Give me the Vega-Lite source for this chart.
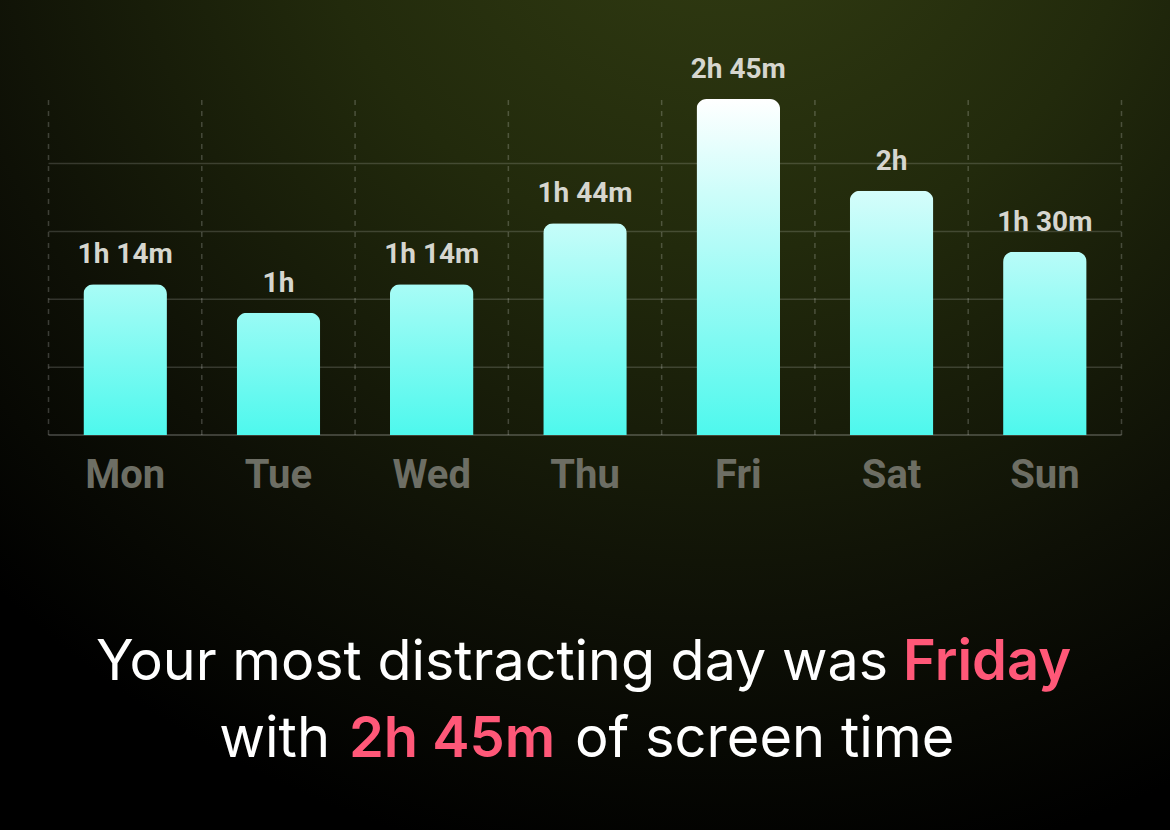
{
  "$schema": "https://vega.github.io/schema/vega-lite/v6.json",
  "width": 1170,
  "height": 830,
  "padding": 0,
  "autosize": "none",
  "background": "#000000",
  "config": {
    "view": {
      "stroke": null,
      "fill": {
        "gradient": "radial",
        "x1": 0.62, "y1": 0, "r1": 0,
        "x2": 0.62, "y2": 0, "r2": 0.9,
        "stops": [
          {"offset": 0, "color": "#343f13"},
          {"offset": 0.4, "color": "#222a0c"},
          {"offset": 0.75, "color": "#0e1006"},
          {"offset": 1, "color": "#000000"}
        ]
      }
    }
  },
  "datasets": {
    "days": [
      {"day": "Mon", "minutes": 74, "label": "1h 14m"},
      {"day": "Tue", "minutes": 60, "label": "1h"},
      {"day": "Wed", "minutes": 74, "label": "1h 14m"},
      {"day": "Thu", "minutes": 104, "label": "1h 44m"},
      {"day": "Fri", "minutes": 165, "label": "2h 45m"},
      {"day": "Sat", "minutes": 120, "label": "2h"},
      {"day": "Sun", "minutes": 90, "label": "1h 30m"}
    ],
    "grid": [
      {"v": 33.33}, {"v": 66.67}, {"v": 100}, {"v": 133.33}
    ]
  },
  "layer": [
    {
      "data": {"name": "days"},
      "mark": {"type": "rule", "color": "#ffffff", "opacity": 0.2, "strokeWidth": 1.5, "strokeDash": [5, 6]},
      "encoding": {
        "x": {"field": "day", "type": "nominal", "bandPosition": 0, "axis": null,
              "scale": {"domain": ["Mon", "Tue", "Wed", "Thu", "Fri", "Sat", "Sun"], "paddingInner": 0, "paddingOuter": 0.3165}},
        "y": {"datum": 0, "type": "quantitative", "axis": null,
              "scale": {"domain": [-194, 213.65], "nice": false, "zero": false}},
        "y2": {"datum": 166.67}
      }
    },
    {
      "data": {"name": "days"},
      "transform": [{"filter": "datum.day === 'Sun'"}],
      "mark": {"type": "rule", "color": "#ffffff", "opacity": 0.2, "strokeWidth": 1.5, "strokeDash": [5, 6]},
      "encoding": {
        "x": {"field": "day", "type": "nominal", "bandPosition": 1, "axis": null},
        "y": {"datum": 0, "type": "quantitative", "axis": null},
        "y2": {"datum": 166.67}
      }
    },
    {
      "data": {"name": "grid"},
      "mark": {"type": "tick", "color": "#ffffff", "opacity": 0.16, "thickness": 1.5, "width": {"expr": "bandwidth('x') * 7"}},
      "encoding": {
        "x": {"datum": "Thu", "type": "nominal", "axis": null},
        "y": {"field": "v", "type": "quantitative", "axis": null}
      }
    },
    {
      "data": {"name": "grid"},
      "transform": [{"filter": "datum.v < 40"}],
      "mark": {"type": "tick", "color": "#ffffff", "opacity": 0.2, "thickness": 2, "width": {"expr": "bandwidth('x') * 7"}},
      "encoding": {
        "x": {"datum": "Thu", "type": "nominal", "axis": null},
        "y": {"datum": 0, "type": "quantitative", "axis": null}
      }
    },
    {
      "data": {"name": "days"},
      "mark": {
        "type": "bar",
        "width": {"band": 0.545},
        "cornerRadiusTopLeft": 10,
        "cornerRadiusTopRight": 10,
        "fill": {"expr": "{gradient: 'linear', x1: 0, y1: 0, x2: 0, y2: 1, stops: [{offset: 0, color: 'rgb(' + round(78 + 177 * pow(datum.minutes / 165, 0.85)) + ',' + round(248 + 7 * pow(datum.minutes / 165, 0.85)) + ',' + round(237 + 18 * pow(datum.minutes / 165, 0.85)) + ')'}, {offset: 1, color: '#4ef8ed'}]}"}
      },
      "encoding": {
        "x": {"field": "day", "type": "nominal", "axis": null},
        "y": {"field": "minutes", "type": "quantitative", "axis": null}
      }
    },
    {
      "data": {"name": "days"},
      "mark": {"type": "text", "font": "Roboto", "fontWeight": 700, "fontSize": 28, "color": "#d6d6cf", "baseline": "alphabetic", "dy": -21},
      "encoding": {
        "x": {"field": "day", "type": "nominal", "axis": null},
        "y": {"field": "minutes", "type": "quantitative", "axis": null},
        "text": {"field": "label"}
      }
    },
    {
      "data": {"name": "days"},
      "mark": {"type": "text", "font": "Roboto", "fontWeight": 700, "fontSize": 40, "color": "#6d6e64", "baseline": "alphabetic"},
      "encoding": {
        "x": {"field": "day", "type": "nominal", "axis": null},
        "y": {"datum": -26, "type": "quantitative", "axis": null},
        "text": {"field": "day"}
      }
    },
    {
      "data": {"values": [{"t": "Your most distracting day was"}]},
      "mark": {"type": "text", "font": "Inter", "fontWeight": 400, "fontSize": 55.6, "color": "#ffffff", "align": "right", "baseline": "alphabetic", "dx": 303},
      "encoding": {
        "x": {"datum": "Thu", "type": "nominal", "axis": null},
        "y": {"datum": -120.3, "type": "quantitative", "axis": null},
        "text": {"field": "t"}
      }
    },
    {
      "data": {"values": [{"t": "Friday"}]},
      "mark": {"type": "text", "font": "Inter", "fontWeight": 600, "fontSize": 56, "color": "#ff5878", "align": "left", "baseline": "alphabetic", "dx": 318},
      "encoding": {
        "x": {"datum": "Thu", "type": "nominal", "axis": null},
        "y": {"datum": -120.3, "type": "quantitative", "axis": null},
        "text": {"field": "t"}
      }
    },
    {
      "data": {"values": [{"t": "with"}]},
      "mark": {"type": "text", "font": "Inter", "fontWeight": 400, "fontSize": 56, "color": "#ffffff", "align": "right", "baseline": "alphabetic", "dx": -255},
      "encoding": {
        "x": {"datum": "Thu", "type": "nominal", "axis": null},
        "y": {"datum": -158.2, "type": "quantitative", "axis": null},
        "text": {"field": "t"}
      }
    },
    {
      "data": {"values": [{"t": "2h 45m"}]},
      "mark": {"type": "text", "font": "Inter", "fontWeight": 600, "fontSize": 56, "color": "#ff5878", "align": "center", "baseline": "alphabetic", "dx": -133},
      "encoding": {
        "x": {"datum": "Thu", "type": "nominal", "axis": null},
        "y": {"datum": -158.2, "type": "quantitative", "axis": null},
        "text": {"field": "t"}
      }
    },
    {
      "data": {"values": [{"t": "of screen time"}]},
      "mark": {"type": "text", "font": "Inter", "fontWeight": 400, "fontSize": 56, "color": "#ffffff", "align": "left", "baseline": "alphabetic", "dx": -10},
      "encoding": {
        "x": {"datum": "Thu", "type": "nominal", "axis": null},
        "y": {"datum": -158.2, "type": "quantitative", "axis": null},
        "text": {"field": "t"}
      }
    }
  ]
}
